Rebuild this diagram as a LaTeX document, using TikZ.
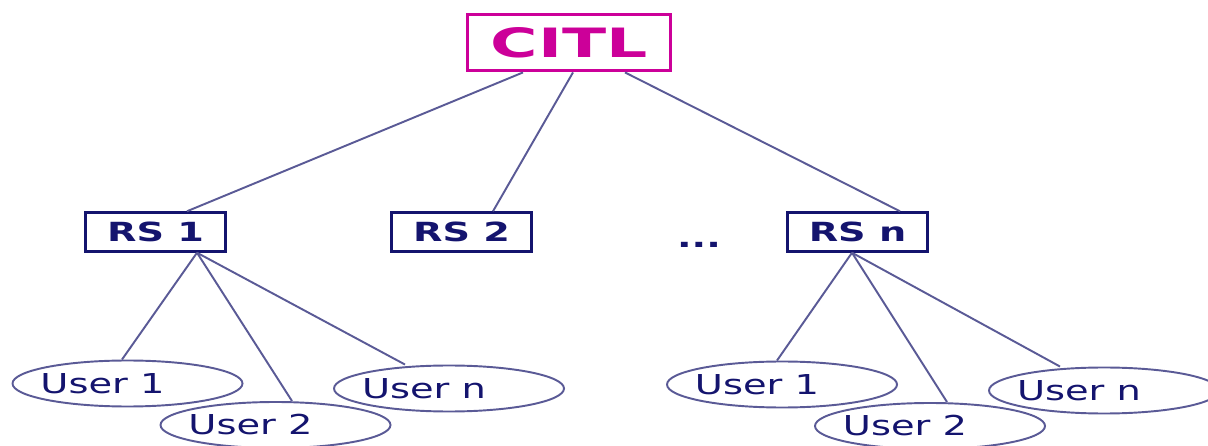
\documentclass[tikz,border=0pt]{standalone}
\usepackage{fontspec}
\usetikzlibrary{shapes.geometric}
\newfontfamily\userfont[FakeStretch=1.4]{DejaVu Sans}
\newfontfamily\rsfont[FakeStretch=1.45]{DejaVu Sans}
\newfontfamily\citlfont[FakeStretch=1.6]{DejaVu Sans}
\definecolor{citlpink}{RGB}{204,0,153}
\definecolor{navy}{RGB}{20,20,110}
\definecolor{linkblue}{RGB}{90,90,150}

\begin{document}
\begin{tikzpicture}[
    rsbox/.style={draw=navy, line width=1.4pt, rectangle, minimum width=2.8cm, minimum height=0.78cm, inner sep=0pt, text=navy, font=\rsfont\bfseries\fontsize{15}{17}\selectfont},
    usertext/.style={text=navy, font=\userfont\fontsize{15.6}{18}\selectfont},
    user/.style={draw=linkblue, line width=1.1pt, ellipse, minimum width=4.6cm, minimum height=0.92cm, inner sep=0pt, label={[usertext, xshift=-0.5cm]center:#1}},
    link/.style={draw=linkblue, line width=1.1pt}]
    \useasboundingbox (0,0) rectangle (24.16,8.92);

    \node[draw=citlpink, line width=2.2pt, rectangle, minimum width=4.06cm, minimum height=1.12cm, inner sep=0pt, text=citlpink, font=\citlfont\bfseries\fontsize{23}{26}\selectfont] (citl) at (11.38,8.07) {CITL};

    \node[rsbox] (rs1) at (3.11,4.28) {RS 1};
    \node[rsbox] (rs2) at (9.23,4.28) {RS 2};
    \node[rsbox] (rsn) at (17.15,4.28) {RS n};
    \node[usertext, font=\userfont\bfseries\fontsize{15.6}{18}\selectfont, anchor=base] (dots) at (13.98,3.96) {...};

    \node[user=User 1] (u11) at (2.55,1.25) {};
    \node[user=User 2] (u12) at (5.51,0.42) {};
    \node[user=User n] (u1n) at (8.98,1.15) {};
    \node[user=User 1] (un1) at (15.64,1.23) {};
    \node[user=User 2] (un2) at (18.60,0.40) {};
    \node[user=User n] (unn) at (22.08,1.11) {};

    \draw[link] ([xshift=-0.92cm]citl.south) -- ([xshift=0.63cm]rs1.north);
    \draw[link] ([xshift=0.08cm]citl.south) -- ([xshift=0.63cm]rs2.north);
    \draw[link] ([xshift=1.12cm]citl.south) -- ([xshift=0.85cm]rsn.north);

    \draw[link] ([xshift=0.83cm]rs1.south) -- ([xshift=-0.11cm]u11.north);
    \draw[link] ([xshift=0.83cm]rs1.south) -- ([xshift=0.33cm]u12.north);
    \draw[link] ([xshift=0.83cm]rs1.south) -- ([xshift=-0.88cm]u1n.north);

    \draw[link] ([xshift=-0.11cm]rsn.south) -- ([xshift=-0.1cm]un1.north);
    \draw[link] ([xshift=-0.11cm]rsn.south) -- ([xshift=0.34cm]un2.north);
    \draw[link] ([xshift=-0.11cm]rsn.south) -- ([xshift=-0.88cm]unn.north);
\end{tikzpicture}
\end{document}
